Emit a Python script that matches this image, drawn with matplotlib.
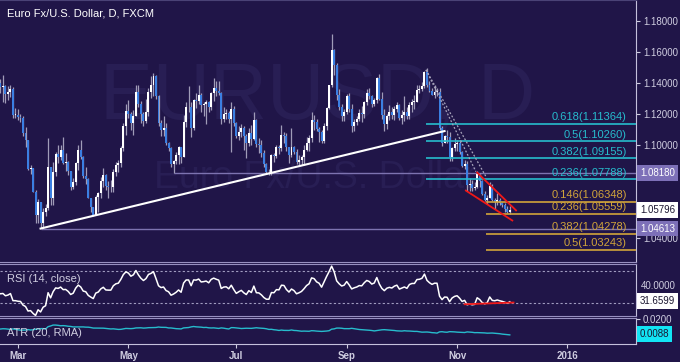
import numpy as np
import pandas as pd
import matplotlib
matplotlib.use("Agg")
import matplotlib.pyplot as plt
from matplotlib.transforms import blended_transform_factory

plt.rcParams["font.family"] = ["Liberation Sans", "DejaVu Sans"]

# EUR/USD daily bars, 2 Jan 2015 .. 1 Dec 2015 (business days); open = previous close
first_open = 1.2100
close = [
    1.2005, 1.1935, 1.1890, 1.1835, 1.1790, 1.1840, 1.1840, 1.1770, 1.1785, 1.1630, 1.1565, 1.1605, 1.1555, 1.1610, 1.1365, 1.1205, 1.1235, 1.1380, 1.1285, 1.1320, 1.1290,  # Jan
    1.1340, 1.1480, 1.1345, 1.1475, 1.1315, 1.1320, 1.1310, 1.1330, 1.1400, 1.1390, 1.1410, 1.1410, 1.1400, 1.1375, 1.1380, 1.1330, 1.1340, 1.1360, 1.1195, 1.1195,  # Feb
    1.1180, 1.1175, 1.1075, 1.1030, 1.0845, 1.0850, 1.0700, 1.0550, 1.0630, 1.0495, 1.0570, 1.0595, 1.0855, 1.0660, 1.0825, 1.0940, 1.0925, 1.0965, 1.0885, 1.0890, 1.0830, 1.0730,  # Mar
    1.0760, 1.0885, 1.0970, 1.0920, 1.0800, 1.0780, 1.0660, 1.0600, 1.0545, 1.0665, 1.0690, 1.0765, 1.0805, 1.0735, 1.0730, 1.0730, 1.0825, 1.0870, 1.0885, 1.0980, 1.1125, 1.1220,  # Apr
    1.1200, 1.1145, 1.1190, 1.1345, 1.1265, 1.1200, 1.1155, 1.1210, 1.1345, 1.1385, 1.1445, 1.1315, 1.1145, 1.1095, 1.1110, 1.1015, 1.0980, 1.0875, 1.0900, 1.0935, 1.0985,  # May
    1.0925, 1.1150, 1.1245, 1.1245, 1.1110, 1.1290, 1.1285, 1.1320, 1.1255, 1.1265, 1.1280, 1.1245, 1.1335, 1.1370, 1.1350, 1.1335, 1.1170, 1.1200, 1.1205, 1.1165, 1.1235, 1.1145,  # Jun
    1.1055, 1.1085, 1.1110, 1.1055, 1.1015, 1.1080, 1.1040, 1.1160, 1.1005, 1.1000, 1.0950, 1.0875, 1.0825, 1.0825, 1.0935, 1.0930, 1.0985, 1.0980, 1.1065, 1.1060, 1.0985, 1.0935, 1.0985,  # Jul
    1.0955, 1.0890, 1.0905, 1.0925, 1.0965, 1.1015, 1.1045, 1.1160, 1.1150, 1.1105, 1.1085, 1.1025, 1.1120, 1.1240, 1.1385, 1.1615, 1.1515, 1.1320, 1.1245, 1.1185, 1.1210,  # Aug
    1.1315, 1.1230, 1.1120, 1.1150, 1.1170, 1.1205, 1.1200, 1.1275, 1.1335, 1.1315, 1.1265, 1.1290, 1.1430, 1.1300, 1.1195, 1.1135, 1.1190, 1.1210, 1.1195, 1.1235, 1.1255, 1.1175,  # Sep
    1.1195, 1.1215, 1.1190, 1.1260, 1.1280, 1.1280, 1.1355, 1.1360, 1.1380, 1.1470, 1.1385, 1.1350, 1.1325, 1.1345, 1.1345, 1.1110, 1.1015, 1.1055, 1.1050, 1.0925, 1.0980, 1.1005,  # Oct
    1.1015, 1.0955, 1.0865, 1.0880, 1.0740, 1.0750, 1.0725, 1.0730, 1.0815, 1.0770, 1.0685, 1.0645, 1.0660, 1.0735, 1.0645, 1.0635, 1.0645, 1.0625, 1.0610, 1.0590, 1.0565,  # Nov
    1.05796,  # Dec
]
high = [
    1.2105, 1.2005, 1.1960, 1.1895, 1.1845, 1.1850, 1.1860, 1.1845, 1.1845, 1.1845, 1.1640, 1.1640, 1.1620, 1.1680, 1.1680, 1.1385, 1.1280, 1.1425, 1.1385, 1.1365, 1.1350,
    1.1365, 1.1535, 1.1490, 1.1495, 1.1485, 1.1330, 1.1345, 1.1350, 1.1435, 1.1445, 1.1425, 1.1450, 1.1430, 1.1425, 1.1450, 1.1385, 1.1380, 1.1390, 1.1375, 1.1240,
    1.1235, 1.1200, 1.1185, 1.1115, 1.1035, 1.0870, 1.0850, 1.0710, 1.0650, 1.0635, 1.0595, 1.0620, 1.1045, 1.0860, 1.0890, 1.0955, 1.1000, 1.1000, 1.1050, 1.0950, 1.0895, 1.0830,
    1.0790, 1.0890, 1.1000, 1.1035, 1.0930, 1.0860, 1.0790, 1.0660, 1.0600, 1.0675, 1.0695, 1.0795, 1.0850, 1.0810, 1.0765, 1.0775, 1.0845, 1.0890, 1.0905, 1.0995, 1.1145, 1.1265,
    1.1290, 1.1210, 1.1225, 1.1390, 1.1390, 1.1285, 1.1215, 1.1295, 1.1365, 1.1445, 1.1465, 1.1450, 1.1325, 1.1160, 1.1185, 1.1140, 1.1020, 1.0990, 1.0905, 1.0955, 1.0995,
    1.0990, 1.1195, 1.1275, 1.1380, 1.1280, 1.1300, 1.1335, 1.1385, 1.1335, 1.1280, 1.1290, 1.1285, 1.1340, 1.1435, 1.1410, 1.1410, 1.1345, 1.1245, 1.1235, 1.1220, 1.1280, 1.1250,
    1.1150, 1.1120, 1.1135, 1.1120, 1.1070, 1.1110, 1.1130, 1.1215, 1.1165, 1.1045, 1.1035, 1.0965, 1.0885, 1.0845, 1.0945, 1.0950, 1.1000, 1.1000, 1.1130, 1.1085, 1.1080, 1.0990, 1.1110,
    1.0995, 1.0975, 1.0935, 1.0935, 1.1000, 1.1050, 1.1065, 1.1215, 1.1195, 1.1165, 1.1115, 1.1095, 1.1145, 1.1245, 1.1390, 1.1715, 1.1620, 1.1530, 1.1360, 1.1265, 1.1230,
    1.1330, 1.1335, 1.1265, 1.1165, 1.1190, 1.1235, 1.1250, 1.1285, 1.1360, 1.1370, 1.1325, 1.1305, 1.1440, 1.1460, 1.1340, 1.1230, 1.1200, 1.1255, 1.1245, 1.1250, 1.1280, 1.1265,
    1.1225, 1.1315, 1.1245, 1.1275, 1.1295, 1.1325, 1.1385, 1.1385, 1.1405, 1.1475, 1.1495, 1.1415, 1.1365, 1.1385, 1.1370, 1.1370, 1.1125, 1.1065, 1.1095, 1.1085, 1.0990, 1.1045,
    1.1030, 1.1030, 1.0960, 1.0905, 1.0895, 1.0790, 1.0775, 1.0760, 1.0830, 1.0820, 1.0775, 1.0705, 1.0680, 1.0760, 1.0750, 1.0660, 1.0690, 1.0655, 1.0635, 1.0625, 1.0605,
    1.0605,
]
low = [
    1.2000, 1.1860, 1.1860, 1.1800, 1.1755, 1.1755, 1.1795, 1.1725, 1.1730, 1.1570, 1.1460, 1.1540, 1.1520, 1.1525, 1.1315, 1.1100, 1.1100, 1.1205, 1.1275, 1.1260, 1.1260,
    1.1270, 1.1320, 1.1345, 1.1345, 1.1290, 1.1270, 1.1265, 1.1280, 1.1315, 1.1370, 1.1345, 1.1330, 1.1355, 1.1335, 1.1280, 1.1270, 1.1290, 1.1310, 1.1175, 1.1175,
    1.1160, 1.1150, 1.1060, 1.0990, 1.0840, 1.0815, 1.0695, 1.0495, 1.0495, 1.0462, 1.0463, 1.0545, 1.0580, 1.0615, 1.0610, 1.0800, 1.0885, 1.0905, 1.0880, 1.0830, 1.0805, 1.0710,
    1.0715, 1.0745, 1.0840, 1.0910, 1.0790, 1.0750, 1.0655, 1.0570, 1.0540, 1.0550, 1.0565, 1.0655, 1.0730, 1.0710, 1.0660, 1.0700, 1.0700, 1.0800, 1.0825, 1.0860, 1.0960, 1.1065,
    1.1175, 1.1095, 1.1065, 1.1185, 1.1245, 1.1140, 1.1125, 1.1140, 1.1190, 1.1305, 1.1315, 1.1300, 1.1120, 1.1060, 1.1060, 1.1000, 1.0960, 1.0860, 1.0818, 1.0875, 1.0880,
    1.0885, 1.0920, 1.1115, 1.1215, 1.1050, 1.1100, 1.1240, 1.1265, 1.1215, 1.1190, 1.1135, 1.1210, 1.1225, 1.1285, 1.1315, 1.1320, 1.1135, 1.1150, 1.1170, 1.1140, 1.0955, 1.1120,
    1.1045, 1.1030, 1.1050, 1.0970, 1.0915, 1.0995, 1.1000, 1.1035, 1.0990, 1.0950, 1.0925, 1.0860, 1.0810, 1.0808, 1.0805, 1.0890, 1.0915, 1.0945, 1.0960, 1.1010, 1.0960, 1.0885, 1.0925,
    1.0945, 1.0875, 1.0865, 1.0870, 1.0870, 1.0960, 1.0960, 1.1020, 1.1100, 1.1090, 1.1020, 1.1015, 1.1015, 1.1100, 1.1230, 1.1375, 1.1450, 1.1290, 1.1225, 1.1155, 1.1155,
    1.1200, 1.1210, 1.1085, 1.1090, 1.1130, 1.1155, 1.1150, 1.1175, 1.1260, 1.1300, 1.1245, 1.1250, 1.1270, 1.1290, 1.1170, 1.1090, 1.1105, 1.1160, 1.1165, 1.1160, 1.1215, 1.1160,
    1.1135, 1.1155, 1.1165, 1.1170, 1.1215, 1.1235, 1.1275, 1.1335, 1.1350, 1.1365, 1.1375, 1.1345, 1.1320, 1.1305, 1.1315, 1.1095, 1.0995, 1.1010, 1.1015, 1.0895, 1.0895, 1.0960,
    1.0960, 1.0940, 1.0855, 1.0845, 1.0705, 1.0705, 1.0705, 1.0710, 1.0720, 1.0730, 1.0675, 1.0640, 1.0620, 1.0655, 1.0640, 1.0590, 1.0615, 1.0610, 1.0600, 1.0565, 1.0560,
    1.0555,
]

# chart annotations (drawing tools on the original chart)
fib_upper = [(0.618, 1.11364), (0.5, 1.10260), (0.382, 1.09155), (0.236, 1.07788)]
fib_lower = [(0.146, 1.06348), (0.236, 1.05559), (0.382, 1.04278), (0.5, 1.03243)]
support_levels = [("2015-05-27", 1.08180), ("2015-03-13", 1.04613)]
trendline = [("2015-03-13", 1.0461), ("2015-10-26", 1.1090)]
rsi_last_label = "31.6599"
atr_last_label = "0.0088"

BG = "#201548"
WM = "#281e54"
FG = "#cfcde0"
CYAN = "#27bccd"
GOLD = "#d1a43a"
PURPLE_LINE = "#7d73b0"
SPINE = "#9890c0"

dates = pd.bdate_range("2015-01-02", "2015-12-01")
assert len(dates) == len(close) == len(high) == len(low)
close = np.array(close)
high = np.array(high)
low = np.array(low)
opn = np.concatenate([[first_open], close[:-1]])
x = np.arange(len(dates))
pos = {d.strftime("%Y-%m-%d"): i for i, d in enumerate(dates)}
i_mar = pos["2015-03-02"]


def rma(v, n):
    out = np.full(len(v), np.nan)
    out[n - 1] = np.mean(v[:n])
    for i in range(n, len(v)):
        out[i] = (out[i - 1] * (n - 1) + v[i]) / n
    return out


delta = np.diff(close)
up = rma(np.clip(delta, 0, None), 14)
dn = rma(np.clip(-delta, 0, None), 14)
rsi = np.concatenate([[np.nan], 100 - 100 / (1 + up / dn)])
tr = np.maximum(high - low, np.maximum(np.abs(high - opn), np.abs(low - opn)))
atr = rma(tr, 20)

fig = plt.figure(figsize=(6.8, 3.62), dpi=100, facecolor=BG)


def px_axes(x0, y0, x1, y1):
    a = fig.add_axes([x0 / 680, 1 - y1 / 362, (x1 - x0) / 680, (y1 - y0) / 362])
    a.set_facecolor(BG)
    for s in ["left", "top", "bottom"]:
        a.spines[s].set_visible(False)
    a.spines["right"].set_color("#c4c0dc")
    a.yaxis.tick_right()
    a.tick_params(axis="y", colors=FG, labelsize=7, length=3, width=0.8, pad=2)
    a.tick_params(axis="x", bottom=False, labelbottom=False)
    return a


ax = px_axes(0, 0, 636, 262)
ax_rsi = px_axes(0, 264, 636, 316)
ax_atr = px_axes(0, 318, 636, 344)

x0, x1 = i_mar - 7.17, i_mar + 246.3
for a in (ax, ax_rsi, ax_atr):
    a.set_xlim(x0, x1)
ax.spines["bottom"].set_visible(True)
ax.spines["bottom"].set_color(SPINE)
ax.spines["top"].set_visible(True)
ax.spines["top"].set_color("#4a4276")
for a in (ax_rsi, ax_atr):
    a.spines["top"].set_visible(True)
    a.spines["top"].set_color(SPINE)
ax_rsi.spines["bottom"].set_visible(True)
ax_rsi.spines["bottom"].set_color(SPINE)
ax_atr.spines["bottom"].set_visible(True)
ax_atr.spines["bottom"].set_color("#c4c0dc")

# --- price panel ---
ax.set_ylim(1.02452, 1.19355)
ax.set_yticks([1.04, 1.10, 1.12, 1.14, 1.16, 1.18])
ax.set_yticklabels([f"{v:.5f}" for v in [1.04, 1.10, 1.12, 1.14, 1.16, 1.18]])

ax.text(0.5, 1 - 98 / 262, "EURUSD, D", transform=ax.transAxes, ha="center",
        va="center", fontsize=57, color=WM, zorder=0)
ax.text(315 / 636, 1 - 178 / 262, "Euro Fx/U.S. Dollar", transform=ax.transAxes,
        ha="center", va="center", fontsize=27, color=WM, zorder=0)
ax.text(7 / 636, 1 - 14 / 262, "Euro Fx/U.S. Dollar, D, FXCM", transform=ax.transAxes,
        va="center", ha="left", fontsize=8, color="white")

is_up = close >= opn
ax.vlines(x, low, high, color="#a09cb8", lw=0.9, zorder=2)
body_lo = np.minimum(opn, close)
body_h = np.maximum(np.abs(close - opn), 0.0002)
ax.bar(x[is_up], body_h[is_up], bottom=body_lo[is_up], width=0.78, color="white", lw=0, zorder=3)
ax.bar(x[~is_up], body_h[~is_up], bottom=body_lo[~is_up], width=0.78, color="#3b7fe2", lw=0, zorder=3)

for d, lvl in support_levels:
    ax.hlines(lvl, pos[d], x1, color=PURPLE_LINE, lw=1, zorder=1)
(d_a, p_a), (d_b, p_b) = trendline
ax.plot([pos[d_a], pos[d_b]], [p_a, p_b], color="white", lw=1.5, zorder=4)

blend = blended_transform_factory(ax.transAxes, ax.transData)
fib_up_start = pos["2015-10-15"] - 0.5
fib_lo_start = pos["2015-11-18"] - 0.5
for r, lvl in fib_upper:
    ax.hlines(lvl, fib_up_start, x1, color=CYAN, lw=1.2, zorder=4)
    ax.text(627 / 636, lvl + 0.0009, f"{r}({lvl:.5f})", transform=blend, ha="right",
            va="bottom", fontsize=8, color=CYAN)
for r, lvl in fib_lower:
    ax.hlines(lvl, fib_lo_start, x1, color=GOLD, lw=1.2, zorder=4)
    ax.text(627 / 636, lvl + 0.0009, f"{r}({lvl:.5f})", transform=blend, ha="right",
            va="bottom", fontsize=8, color=GOLD)

# dotted projection lines from the October high
pk = pos["2015-10-15"]
ax.plot([pk - 0.4, pk + 19.5], [1.1485, 1.0828], color="#a8a4bc", lw=0.9, ls=(0, (1.5, 1.5)), zorder=4)
ax.plot([pk - 0.4, pk + 23.5], [1.1485, 1.0796], color="#a8a4bc", lw=0.9, ls=(0, (1.5, 1.5)), zorder=4)

# falling wedge
ax.plot([pos["2015-11-12"], pos["2015-12-01"] + 2.5], [1.0822, 1.0578], color="#f01818", lw=1.3, zorder=5)
ax.plot([pos["2015-11-06"] - 0.5, pos["2015-12-01"] + 1], [1.0706, 1.0513], color="#f01818", lw=1.3, zorder=5)


def price_box(a, yval, text, fc, tc):
    tr_ = blended_transform_factory(a.transAxes, a.transData)
    a.text(1 + 4 / 636, yval, text, transform=tr_, ha="left", va="center", fontsize=7,
           color=tc, zorder=10, bbox=dict(boxstyle="square,pad=0.3", fc=fc, ec="none"))


price_box(ax, 1.08180, "1.08180", "#7d70b8", "white")
price_box(ax, close[-1], f"{close[-1]:.5f}", "white", "#1a1530")
price_box(ax, 1.04613, "1.04613", "#7d70b8", "white")

# --- RSI panel ---
ax_rsi.set_ylim(13.2, 78.8)
ax_rsi.set_yticks([])
for lvl in (70, 30):
    ax_rsi.axhline(lvl, color="#a09cc0", lw=0.8, ls=(0, (2, 2)))
ax_rsi.plot(x, rsi, color="white", lw=1.1)
ax_rsi.plot([pos["2015-11-06"] - 1, pos["2015-12-01"] + 1.5], [28.0, 30.2], color="#f01818", lw=1.3)
ax_rsi.text(7 / 636, 0.71, "RSI (14, close)", transform=ax_rsi.transAxes, fontsize=8,
            color=FG, va="center")
# scale label sitting just above the last-value box
ax_rsi.text(1 + 5 / 636, 0.58, "40.0000", transform=ax_rsi.transAxes, fontsize=7,
            color=FG, va="center", ha="left")
price_box(ax_rsi, 31.66, rsi_last_label, "white", "#1a1530")

# --- ATR panel ---
ax_atr.set_ylim(0.0018, 0.0207)
ax_atr.set_yticks([0.02])
ax_atr.set_yticklabels(["0.0200"])
ax_atr.plot(x, atr, color=CYAN, lw=1)
ax_atr.text(7 / 636, 0.42, "ATR (20, RMA)", transform=ax_atr.transAxes, fontsize=8,
            color=FG, va="center")
price_box(ax_atr, 0.0088, atr_last_label, "#12e4f4", "#1a1530")

# month ticks (2016 lies beyond the data, counted in business days)
months = ["2015-03-02", "2015-05-01", "2015-07-01", "2015-09-01", "2015-11-02"]
tick_pos = [pos[m] for m in months] + [len(pd.bdate_range("2015-01-02", "2016-01-01")) - 1]
ax_atr.set_xticks(tick_pos)
ax_atr.set_xticklabels(["Mar", "May", "Jul", "Sep", "Nov", "2016"])
ax_atr.tick_params(axis="x", bottom=True, labelbottom=True, colors=FG, labelsize=7,
                   length=3, width=0.8, pad=2)
for t in ax_atr.get_xticklabels():
    t.set_fontweight("bold")

fig.savefig("out.png", dpi=100, facecolor=BG)
